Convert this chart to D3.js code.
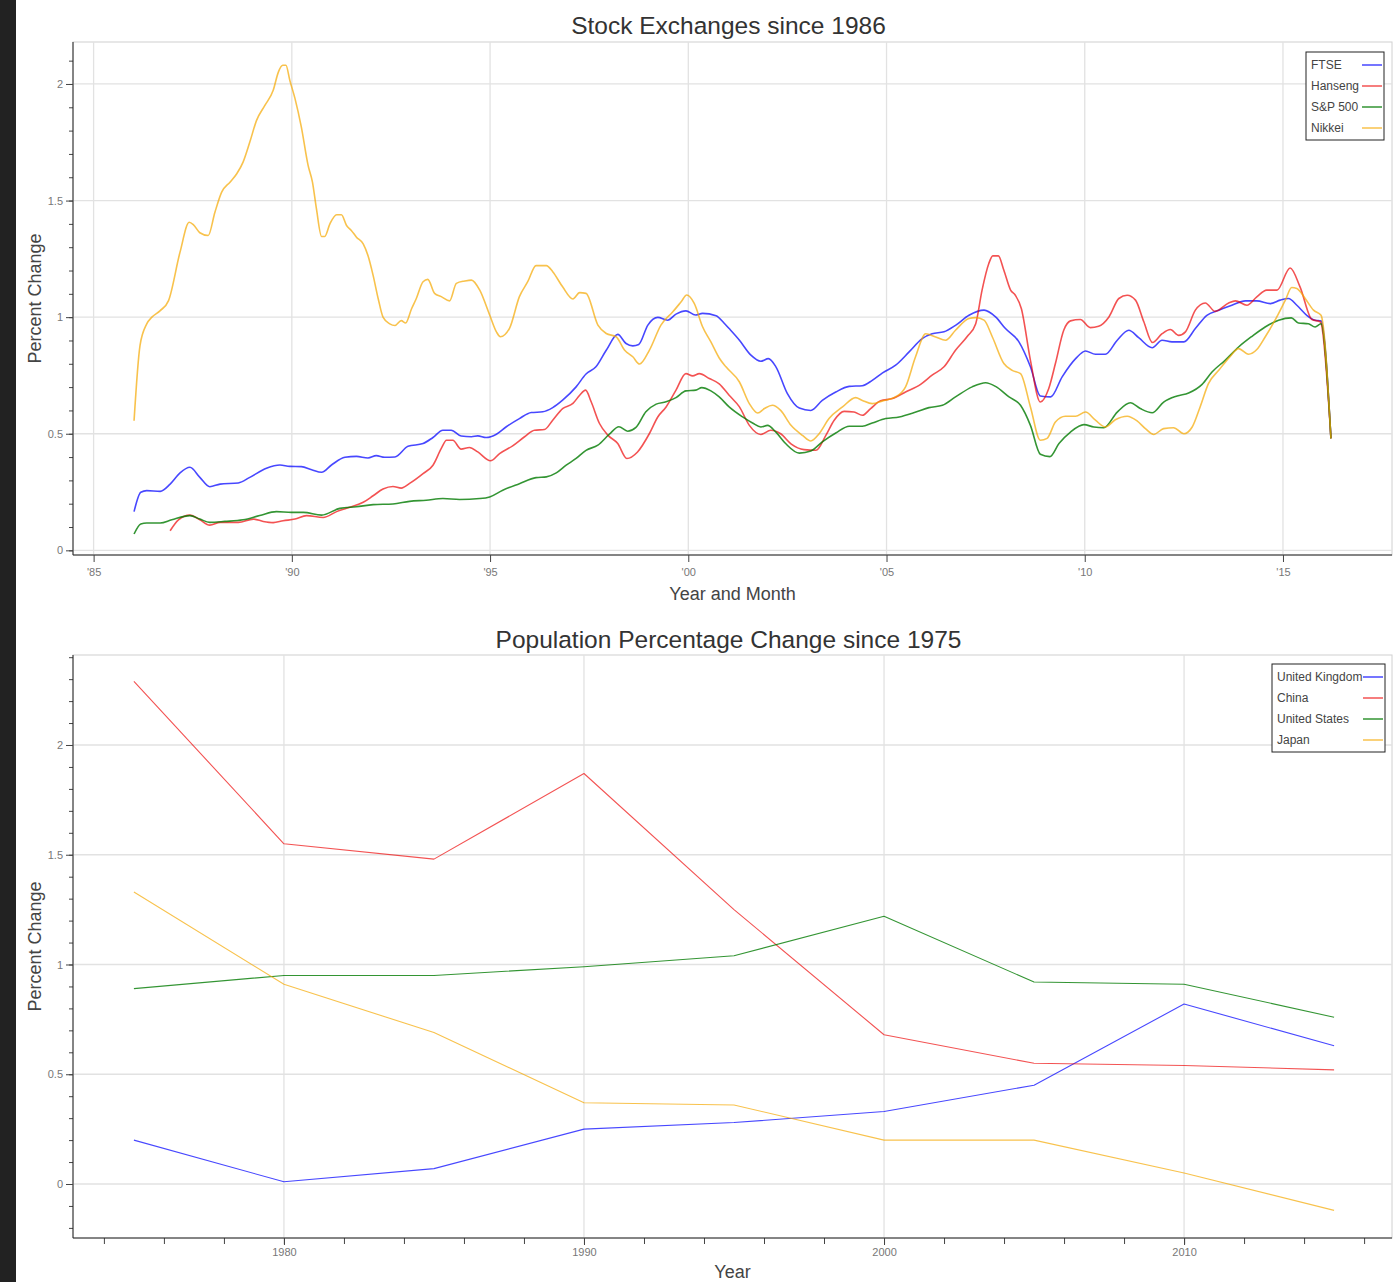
<!DOCTYPE html>
<html><head><meta charset="utf-8">
<script src="https://cdn.jsdelivr.net/npm/d3@7"></script>
<style>
body{margin:0;background:#fff;}
text{font-family:"Liberation Sans",Arial,Helvetica,sans-serif;}
</style></head>
<body><svg id="c" width="1400" height="1282"></svg>
<script>
// ---------- DATA: Stock exchanges (year, relative value) ----------
const ftse = [[1986.02,.166],[1986.19,.249],[1986.34,.256],[1986.68,.253],[1986.93,.284],[1987.18,.332],[1987.43,.356],[1987.68,.313],[1987.93,.273],[1988.19,.284],[1988.65,.289],[1988.94,.313],[1989.36,.352],[1989.70,.366],[1989.95,.360],[1990.24,.359],[1990.50,.346],[1990.75,.335],[1991.00,.366],[1991.34,.399],[1991.63,.403],[1991.92,.396],[1992.13,.406],[1992.34,.399],[1992.60,.400],[1992.93,.446],[1993.31,.458],[1993.56,.484],[1993.81,.515],[1994.02,.515],[1994.27,.490],[1994.53,.487],[1994.69,.491],[1994.90,.484],[1995.16,.498],[1995.41,.530],[1995.74,.565],[1996.04,.591],[1996.33,.594],[1996.58,.612],[1996.83,.644],[1997.17,.701],[1997.42,.756],[1997.67,.787],[1997.93,.858],[1998.22,.926],[1998.43,.887],[1998.60,.877],[1998.75,.883],[1998.98,.966],[1999.23,.999],[1999.48,.987],[1999.69,1.013],[1999.94,1.027],[2000.18,1.009],[2000.36,1.016],[2000.70,1.006],[2000.90,.975],[2001.03,.951],[2001.29,.901],[2001.58,.837],[2001.83,.811],[2002.02,.822],[2002.21,.787],[2002.50,.672],[2002.80,.610],[2003.09,.600],[2003.38,.643],[2003.72,.679],[2004.06,.703],[2004.39,.706],[2004.64,.729],[2004.90,.761],[2005.23,.794],[2005.57,.851],[2005.90,.908],[2006.15,.929],[2006.45,.937],[2006.74,.965],[2007.08,1.008],[2007.46,1.030],[2007.75,1.001],[2008.00,.951],[2008.34,.894],[2008.63,.787],[2008.88,.662],[2009.14,.658],[2009.43,.744],[2009.77,.822],[2010.02,.855],[2010.27,.841],[2010.52,.841],[2010.82,.901],[2011.11,.944],[2011.36,.912],[2011.70,.869],[2011.95,.901],[2012.20,.894],[2012.50,.894],[2012.79,.951],[2013.08,1.008],[2013.38,1.030],[2013.71,1.051],[2014.05,1.070],[2014.34,1.070],[2014.68,1.058],[2014.93,1.073],[2015.14,1.080],[2015.35,1.051],[2015.60,1.008],[2015.81,.987],[2015.96,.984],[2016.21,.48]];

const hanseng = [[1986.93,.084],[1987.14,.131],[1987.43,.151],[1987.68,.131],[1987.93,.108],[1988.19,.120],[1988.65,.120],[1989.03,.134],[1989.28,.124],[1989.53,.119],[1989.78,.127],[1990.08,.134],[1990.37,.149],[1990.79,.141],[1991.13,.166],[1991.38,.181],[1991.80,.206],[1992.05,.234],[1992.30,.263],[1992.55,.274],[1992.76,.267],[1992.97,.287],[1993.31,.329],[1993.56,.365],[1993.77,.437],[1993.90,.472],[1994.06,.472],[1994.27,.434],[1994.48,.441],[1994.69,.422],[1995.01,.384],[1995.24,.415],[1995.57,.448],[1995.87,.487],[1996.12,.515],[1996.37,.518],[1996.58,.558],[1996.83,.608],[1997.09,.630],[1997.26,.665],[1997.41,.687],[1997.55,.637],[1997.76,.544],[1997.97,.494],[1998.22,.458],[1998.45,.394],[1998.72,.422],[1999.02,.501],[1999.23,.572],[1999.44,.615],[1999.69,.687],[1999.94,.758],[2000.11,.748],[2000.28,.758],[2000.53,.737],[2000.78,.714],[2001.03,.665],[2001.29,.615],[2001.54,.536],[2001.83,.497],[2002.08,.515],[2002.33,.500],[2002.59,.457],[2002.92,.432],[2003.22,.429],[2003.47,.493],[2003.68,.558],[2003.93,.596],[2004.18,.593],[2004.39,.579],[2004.60,.608],[2004.85,.641],[2005.15,.651],[2005.48,.679],[2005.86,.712],[2006.15,.751],[2006.45,.787],[2006.74,.858],[2007.04,.918],[2007.25,.972],[2007.41,1.116],[2007.58,1.230],[2007.68,1.263],[2007.82,1.263],[2007.96,1.201],[2008.13,1.116],[2008.25,1.094],[2008.40,1.037],[2008.63,.815],[2008.88,.636],[2009.09,.693],[2009.26,.801],[2009.47,.944],[2009.64,.984],[2009.89,.990],[2010.14,.955],[2010.35,.961],[2010.61,1.001],[2010.86,1.080],[2011.07,1.094],[2011.28,1.073],[2011.49,.980],[2011.71,.891],[2011.95,.929],[2012.16,.947],[2012.37,.922],[2012.54,.937],[2012.79,1.030],[2013.04,1.061],[2013.29,1.025],[2013.63,1.061],[2013.80,1.070],[2014.09,1.051],[2014.34,1.087],[2014.59,1.116],[2014.85,1.116],[2015.18,1.211],[2015.43,1.130],[2015.73,.990],[2015.94,.980],[2016.21,.48]];

const sp500 = [[1986.02,.070],[1986.19,.113],[1986.34,.117],[1986.68,.117],[1986.97,.131],[1987.43,.149],[1987.68,.134],[1987.93,.120],[1988.31,.124],[1988.77,.131],[1989.19,.149],[1989.61,.166],[1989.99,.163],[1990.29,.163],[1990.75,.151],[1991.21,.180],[1991.63,.187],[1992.05,.196],[1992.55,.199],[1992.97,.210],[1993.39,.215],[1993.81,.222],[1994.23,.218],[1994.74,.222],[1994.99,.229],[1995.32,.258],[1995.74,.286],[1996.16,.312],[1996.42,.315],[1996.67,.332],[1996.92,.365],[1997.17,.394],[1997.42,.429],[1997.72,.451],[1998.01,.498],[1998.25,.530],[1998.47,.511],[1998.68,.527],[1998.93,.594],[1999.19,.627],[1999.44,.637],[1999.69,.655],[1999.94,.684],[2000.19,.687],[2000.34,.698],[2000.57,.684],[2000.78,.658],[2001.03,.615],[2001.37,.572],[2001.62,.546],[2001.83,.529],[2002.00,.536],[2002.21,.507],[2002.46,.457],[2002.80,.417],[2003.09,.426],[2003.38,.465],[2003.72,.503],[2004.06,.532],[2004.39,.532],[2004.64,.546],[2004.98,.565],[2005.32,.572],[2005.74,.593],[2006.07,.612],[2006.41,.622],[2006.74,.658],[2007.16,.701],[2007.50,.719],[2007.75,.703],[2008.09,.658],[2008.38,.622],[2008.63,.536],[2008.88,.412],[2009.12,.402],[2009.35,.458],[2009.64,.507],[2009.98,.539],[2010.23,.529],[2010.48,.526],[2010.82,.593],[2011.15,.633],[2011.40,.608],[2011.70,.590],[2011.99,.636],[2012.33,.662],[2012.62,.675],[2012.96,.712],[2013.21,.765],[2013.54,.815],[2013.88,.872],[2014.22,.918],[2014.55,.958],[2014.89,.987],[2015.21,.997],[2015.39,.975],[2015.64,.972],[2015.81,.958],[2015.96,.972],[2016.21,.48]];

const nikkei = [[1986.02,.556],[1986.17,.878],[1986.34,.971],[1986.47,1.000],[1986.68,1.028],[1986.89,1.071],[1987.18,1.279],[1987.41,1.407],[1987.52,1.396],[1987.68,1.362],[1987.89,1.350],[1988.06,1.450],[1988.23,1.536],[1988.44,1.579],[1988.61,1.615],[1988.77,1.665],[1988.94,1.751],[1989.11,1.844],[1989.32,1.908],[1989.53,1.973],[1989.66,2.051],[1989.77,2.080],[1989.85,2.080],[1989.95,2.015],[1990.08,1.937],[1990.24,1.815],[1990.41,1.651],[1990.52,1.579],[1990.62,1.465],[1990.75,1.346],[1990.83,1.346],[1990.96,1.400],[1991.13,1.439],[1991.25,1.439],[1991.38,1.393],[1991.50,1.372],[1991.63,1.343],[1991.80,1.314],[1991.92,1.264],[1992.05,1.179],[1992.18,1.078],[1992.30,1.000],[1992.47,.971],[1992.60,.964],[1992.76,.985],[1992.87,.975],[1993.02,1.036],[1993.14,1.080],[1993.31,1.152],[1993.43,1.162],[1993.60,1.102],[1993.77,1.088],[1993.98,1.070],[1994.15,1.145],[1994.36,1.155],[1994.53,1.159],[1994.74,1.116],[1994.99,1.009],[1995.16,.937],[1995.26,.916],[1995.49,.952],[1995.74,1.088],[1995.95,1.152],[1996.16,1.221],[1996.42,1.221],[1996.58,1.195],[1996.83,1.130],[1997.09,1.078],[1997.26,1.105],[1997.42,1.102],[1997.72,.966],[1997.93,.930],[1998.18,.916],[1998.39,.859],[1998.60,.830],[1998.77,.799],[1999.02,.859],[1999.31,.966],[1999.61,1.023],[1999.82,1.066],[1999.96,1.095],[2000.15,1.059],[2000.36,.959],[2000.57,.894],[2000.78,.825],[2000.95,.787],[2001.29,.722],[2001.54,.629],[2001.75,.589],[2001.92,.608],[2002.12,.622],[2002.33,.600],[2002.59,.536],[2002.88,.493],[2003.09,.469],[2003.30,.500],[2003.55,.565],[2003.89,.615],[2004.22,.655],[2004.39,.643],[2004.64,.629],[2004.90,.641],[2005.23,.658],[2005.48,.701],[2005.73,.829],[2005.99,.929],[2006.24,.915],[2006.49,.901],[2006.74,.944],[2007.08,.994],[2007.25,.998],[2007.46,.987],[2007.67,.915],[2007.96,.801],[2008.17,.772],[2008.38,.758],[2008.63,.615],[2008.88,.472],[2009.05,.480],[2009.26,.550],[2009.51,.575],[2009.77,.575],[2010.02,.593],[2010.27,.558],[2010.52,.529],[2010.77,.560],[2011.07,.575],[2011.32,.555],[2011.53,.522],[2011.74,.497],[2011.99,.522],[2012.24,.526],[2012.50,.500],[2012.71,.529],[2012.91,.615],[2013.12,.715],[2013.38,.772],[2013.67,.832],[2013.88,.865],[2014.13,.841],[2014.34,.861],[2014.55,.915],[2014.80,.987],[2015.06,1.073],[2015.22,1.127],[2015.35,1.123],[2015.56,1.080],[2015.77,1.030],[2015.96,1.008],[2016.21,.479]];

const stockNames = ["FTSE","Hanseng","S&P 500","Nikkei"];
const stockTicks = [1985,1990,1995,2000,2005,2010,2015];

// ---------- DATA: Population change ----------
const popYears = [1975,1980,1985,1990,1995,2000,2005,2010,2015];
const popUK    = [0.20,0.01,0.07,0.25,0.28,0.33,0.45,0.82,0.63];
const popChina = [2.29,1.55,1.48,1.87,1.25,0.68,0.55,0.54,0.52];
const popUS    = [0.89,0.95,0.95,0.99,1.04,1.22,0.92,0.91,0.76];
const popJapan = [1.33,0.91,0.69,0.37,0.36,0.20,0.20,0.05,-0.12];
const popNames = ["United Kingdom","China","United States","Japan"];
const popTicks = [1980,1990,2000,2010];

const yMajor = [0,0.5,1,1.5,2];

// ---------- DRAW ----------
const svg = d3.select('#c');
svg.append('rect').attr('x',0).attr('y',0).attr('width',16).attr('height',1282).attr('fill','#222');

const colors = [
  {stroke:'#0000ff', op:0.72},
  {stroke:'#ee0000', op:0.68},
  {stroke:'#007a00', op:0.8},
  {stroke:'#f5a800', op:0.7}
];

function panel(cfg){
  const g = svg.append('g');
  const x = d3.scaleLinear().domain(cfg.xDomain).range([cfg.left,cfg.right]);
  const y = d3.scaleLinear().domain(cfg.yDomain).range([cfg.bottom,cfg.top]);

  g.append('rect').attr('x',cfg.left).attr('y',cfg.top)
    .attr('width',cfg.right-cfg.left).attr('height',cfg.bottom-cfg.top)
    .attr('fill','#fff').attr('stroke','#d0d0d0');

  g.selectAll('.vg').data(cfg.xMajor).join('line')
    .attr('x1',d=>x(d)).attr('x2',d=>x(d)).attr('y1',cfg.top).attr('y2',cfg.bottom)
    .attr('stroke','#e2e2e2').attr('stroke-width',1.3);
  g.selectAll('.hg').data(yMajor).join('line')
    .attr('y1',d=>y(d)).attr('y2',d=>y(d)).attr('x1',cfg.left).attr('x2',cfg.right)
    .attr('stroke','#e2e2e2').attr('stroke-width',1.3);

  const line = d3.line().x(d=>x(d[0])).y(d=>y(d[1])).curve(cfg.curve);
  cfg.series.forEach((s,i)=>{
    g.append('path').datum(s).attr('d',line).attr('fill','none')
      .attr('stroke',colors[i].stroke).attr('stroke-opacity',colors[i].op)
      .attr('stroke-width',cfg.lw).attr('stroke-linejoin','round');
  });

  const yMinor = d3.range(Math.ceil(cfg.yDomain[0]*10), Math.floor(cfg.yDomain[1]*10)+1).map(v=>v/10);
  g.append('g').attr('transform',`translate(${cfg.left},0)`)
    .call(d3.axisLeft(y).tickValues(yMinor).tickSize(4).tickFormat(''))
    .call(a=>{a.select('.domain').remove(); a.selectAll('line').attr('stroke','#444');});
  g.append('g').attr('transform',`translate(${cfg.left},0)`)
    .call(d3.axisLeft(y).tickValues(yMajor).tickSize(7).tickPadding(3).tickFormat(d3.format('')))
    .call(a=>{a.select('.domain').attr('stroke','#222').attr('d',`M0,${cfg.top}V${cfg.bottom}`);
      a.selectAll('line').attr('stroke','#444');
      a.selectAll('text').attr('fill','#777').style('font-size','11px');});

  if(cfg.xMinor){
    g.append('g').attr('transform',`translate(0,${cfg.bottom})`)
      .call(d3.axisBottom(x).tickValues(cfg.xMinor).tickSize(6).tickFormat(''))
      .call(a=>{a.select('.domain').remove(); a.selectAll('line').attr('stroke','#444');});
  }
  g.append('g').attr('transform',`translate(0,${cfg.bottom})`)
    .call(d3.axisBottom(x).tickValues(cfg.xMajor).tickSize(7).tickPadding(cfg.xPad).tickFormat(cfg.xFormat))
    .call(a=>{a.select('.domain').attr('stroke','#222').attr('d',`M${cfg.left},0H${cfg.right}`);
      a.selectAll('line').attr('stroke','#444');
      a.selectAll('text').attr('fill','#777').style('font-size','11px');});

  const cx=(cfg.left+cfg.right)/2;
  g.append('text').attr('x',cx-4).attr('y',cfg.titleY).attr('text-anchor','middle')
    .attr('fill','#333').style('font-size','24.5px').text(cfg.title);
  g.append('text').attr('x',cx).attr('y',cfg.xLabelY).attr('text-anchor','middle')
    .attr('fill','#444').style('font-size','18px').text(cfg.xLabel);
  g.append('text').attr('transform',`translate(35,${(cfg.top+cfg.bottom)/2}) rotate(-90)`)
    .attr('dy','0.35em').attr('text-anchor','middle')
    .attr('fill','#444').style('font-size','18px').text('Percent Change');

  const L = cfg.legend;
  const lg = g.append('g');
  lg.append('rect').attr('x',L.x).attr('y',L.y).attr('width',L.w).attr('height',L.h)
    .attr('fill','#fff').attr('stroke','#222').attr('stroke-width',1);
  cfg.names.forEach((n,i)=>{
    const yy = L.y + 13 + i*21;
    lg.append('text').attr('x',L.x+5).attr('y',yy).attr('dy','0.35em')
      .attr('fill','#444').style('font-size','12px').text(n);
    lg.append('line').attr('x1',L.x+L.w-22).attr('x2',L.x+L.w-2).attr('y1',yy).attr('y2',yy)
      .attr('stroke',colors[i].stroke).attr('stroke-opacity',colors[i].op).attr('stroke-width',1.5);
  });
}

panel({
  left:73,right:1392,top:42,bottom:555,
  xDomain:[1984.48,2017.75], yDomain:[-0.02,2.18],
  xMajor:stockTicks, xMinor:null, xPad:6,
  xFormat:d=>"'"+String(d%100).padStart(2,'0'),
  series:[ftse,hanseng,sp500,nikkei], names:stockNames,
  curve:d3.curveMonotoneX, lw:1.6,
  title:'Stock Exchanges since 1986', titleY:34,
  xLabel:'Year and Month', xLabelY:600,
  legend:{x:1306,y:52,w:78,h:88}
});

const popSeries = [popUK,popChina,popUS,popJapan].map(arr=>popYears.map((yr,i)=>[yr,arr[i]]));
panel({
  left:73,right:1392,top:655,bottom:1238,
  xDomain:[1972.97,2016.93], yDomain:[-0.246,2.41],
  xMajor:popTicks, xMinor:d3.range(1974,2017,2), xPad:3,
  xFormat:d3.format('d'),
  series:popSeries, names:popNames,
  curve:d3.curveLinear, lw:1.1,
  title:'Population Percentage Change since 1975', titleY:648,
  xLabel:'Year', xLabelY:1278,
  legend:{x:1272,y:664,w:113,h:88}
});
</script>
</body></html>
